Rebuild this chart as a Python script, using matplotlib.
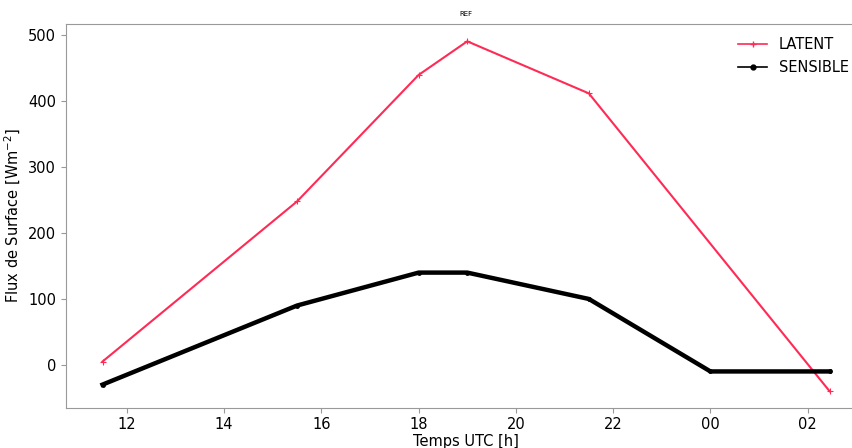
import numpy as np
import matplotlib
matplotlib.use('Agg')
from matplotlib import pyplot as plt
from matplotlib.lines import Line2D

# knots (hours UTC, 24+ = next day)
t_lat = [11.5, 15.5, 18.0, 19.0, 21.5, 26.45]
latent = [5, 248, 440, 491, 412, -40]
t_sen = [11.5, 15.5, 18.0, 19.0, 21.5, 24.0, 26.45]
sensible = [-30, 90, 140, 140, 100, -10, -10]
xticks = [12, 14, 16, 18, 20, 22, 24, 26]
xticklabels = ['12', '14', '16', '18', '20', '22', '00', '02']
yticks = [0, 100, 200, 300, 400, 500]

red = '#ff2a55'

fig = plt.figure(figsize=(8.52, 4.48), dpi=100)
ax = fig.add_axes([0.0775, 0.09, 0.939, 0.856])

ax.plot(t_lat, latent, color=red, lw=1.5, marker='+', ms=4, mew=0.8)
ax.plot(t_sen, sensible, color='black', lw=3.2, marker='.', ms=5)

ax.set_xlim(10.75, 27.2)
ax.set_ylim(-65, 517)
ax.set_xticks(xticks)
ax.set_xticklabels(xticklabels)
ax.set_yticks(yticks)
ax.tick_params(labelsize=10.5, color='#999999', length=3.5)
for s in ax.spines.values():
    s.set_color('#999999')

ax.set_xlabel('Temps UTC [h]', fontsize=10.5, labelpad=1)
ax.set_ylabel('Flux de Surface [Wm$^{-2}$]', fontsize=10.5)
ax.set_title('REF', fontsize=5, pad=6)

handles = [Line2D([], [], color=red, lw=1.2, marker='+', ms=5),
           Line2D([], [], color='black', lw=1.2, marker='.', ms=7)]
ax.legend(handles, ['LATENT', 'SENSIBLE'], loc='upper right', frameon=False,
          fontsize=10.5, bbox_to_anchor=(0.995, 1.0))

fig.savefig('out.png', dpi=100)
